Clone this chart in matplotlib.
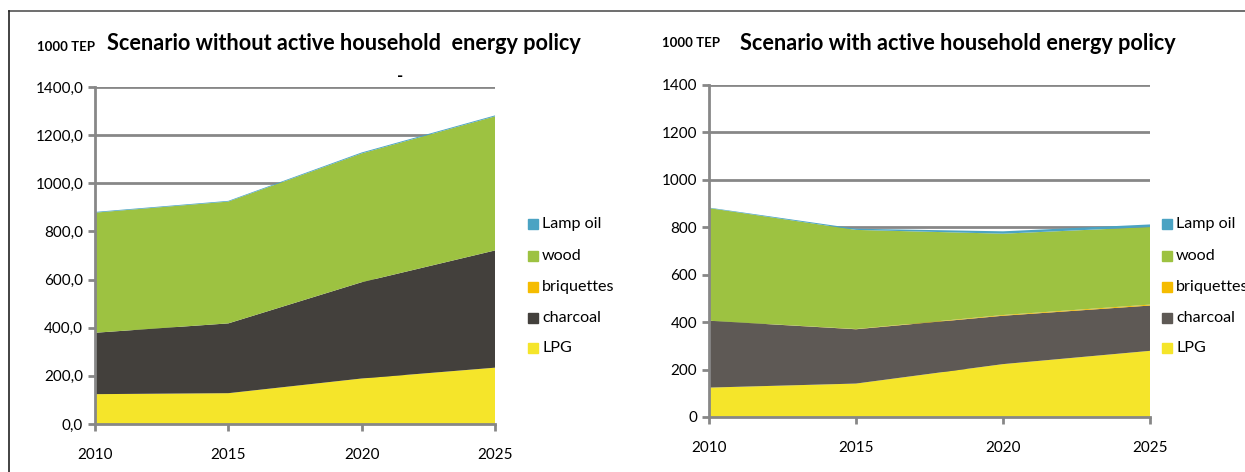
import matplotlib
matplotlib.use("Agg")
import matplotlib.pyplot as plt
from matplotlib.lines import Line2D
from matplotlib.patches import Rectangle

years = [2010, 2015, 2020, 2025]
series_names = ["LPG", "charcoal", "briquettes", "wood", "Lamp oil"]

# Scenario without active household energy policy (1000 TEP)
lpg_without = [124, 128, 189, 234]
charcoal_without = [255, 290, 400, 487]
briquettes_without = [0, 0, 0, 0]
wood_without = [499, 506, 535, 557]
lampoil_without = [3, 3, 4, 4]

# Scenario with active household energy policy (1000 TEP)
lpg_with = [124, 141, 223, 279]
charcoal_with = [282, 229, 204, 191]
briquettes_with = [0, 1, 3, 4]
wood_with = [475, 418, 343, 327]
lampoil_with = [2, 5, 10, 11]

yticks = [0, 200, 400, 600, 800, 1000, 1200, 1400]

colors_left = ["#F5E52A", "#43403C", "#F5BC00", "#9DC241", "#4BA3C3"]
colors_right = ["#F5E52A", "#5E5955", "#F5BC00", "#9DC241", "#4BA3C3"]

plt.rcParams['font.family'] = ['Lato', 'DejaVu Sans']

fig = plt.figure(figsize=(12.45, 4.72), dpi=100)
GRID = "#878787"


def draw(ax, data, colors, fmt, leg_x):
    ax.stackplot(years, *data, colors=colors, linewidth=0, zorder=2)
    ax.set_xlim(2010, 2025)
    ax.set_ylim(0, 1400)
    ax.set_yticks(yticks)
    ax.set_yticklabels([fmt(v) for v in yticks])
    ax.set_xticks(years)
    ax.set_xticklabels([str(y) for y in years])
    for v in yticks[1:]:
        ax.axhline(v, color=GRID, lw=2.0, zorder=1)
    for s in ["top", "right"]:
        ax.spines[s].set_visible(False)
    for s in ["left", "bottom"]:
        ax.spines[s].set_color(GRID)
        ax.spines[s].set_linewidth(2.0)
        ax.spines[s].set_zorder(3)
    ax.tick_params(axis="both", colors=GRID, width=2, length=5, labelcolor="black", labelsize=11)
    ax.tick_params(axis="x", pad=12)
    ax.patch.set_visible(False)
    ys = [224, 256, 287, 318, 348]
    for name, col, yp in zip(series_names[::-1], colors[::-1], ys):
        fig.patches.append(Rectangle((leg_x / 1245, (472 - yp - 5) / 472), 10 / 1245, 10 / 472,
                                     transform=fig.transFigure, color=col, figure=fig))
        fig.text((leg_x + 14) / 1245, (472 - yp) / 472, name, fontsize=11.6, va="center", ha="left")


axL = fig.add_axes([95 / 1245, (472 - 424) / 472, 400 / 1245, 337 / 472])
draw(axL, [lpg_without, charcoal_without, briquettes_without, wood_without, lampoil_without],
     colors_left, lambda v: f"{v:.1f}".replace(".", ","), 528)

axR = fig.add_axes([709 / 1245, (472 - 417) / 472, 441 / 1245, 332 / 472])
draw(axR, [lpg_with, charcoal_with, briquettes_with, wood_with, lampoil_with],
     colors_right, lambda v: f"{v:d}", 1162)

# titles
fig.text(107 / 1245, (472 - 44) / 472, "Scenario without active household  energy policy",
         fontsize=15.6, fontweight="bold", va="center", ha="left")
fig.text(37 / 1245, (472 - 47) / 472, "1000 TEP", fontsize=9.5, fontweight="bold", va="center", ha="left")
fig.text(400 / 1245, (472 - 76) / 472, "-", fontsize=12, fontweight="bold", va="center", ha="center")
fig.text(740 / 1245, (472 - 44) / 472, "Scenario with active household energy policy",
         fontsize=15.6, fontweight="bold", va="center", ha="left")
fig.text(662 / 1245, (472 - 43) / 472, "1000 TEP", fontsize=9.5, fontweight="bold", va="center", ha="left")

# frame lines
fig.add_artist(Line2D([9 / 1245, 1], [(472 - 11) / 472] * 2, transform=fig.transFigure,
                      color="#555555", lw=1.2))
fig.add_artist(Line2D([9 / 1245] * 2, [0, (472 - 11) / 472], transform=fig.transFigure,
                      color="#222222", lw=1.2))

fig.savefig("out.png", dpi=100)
